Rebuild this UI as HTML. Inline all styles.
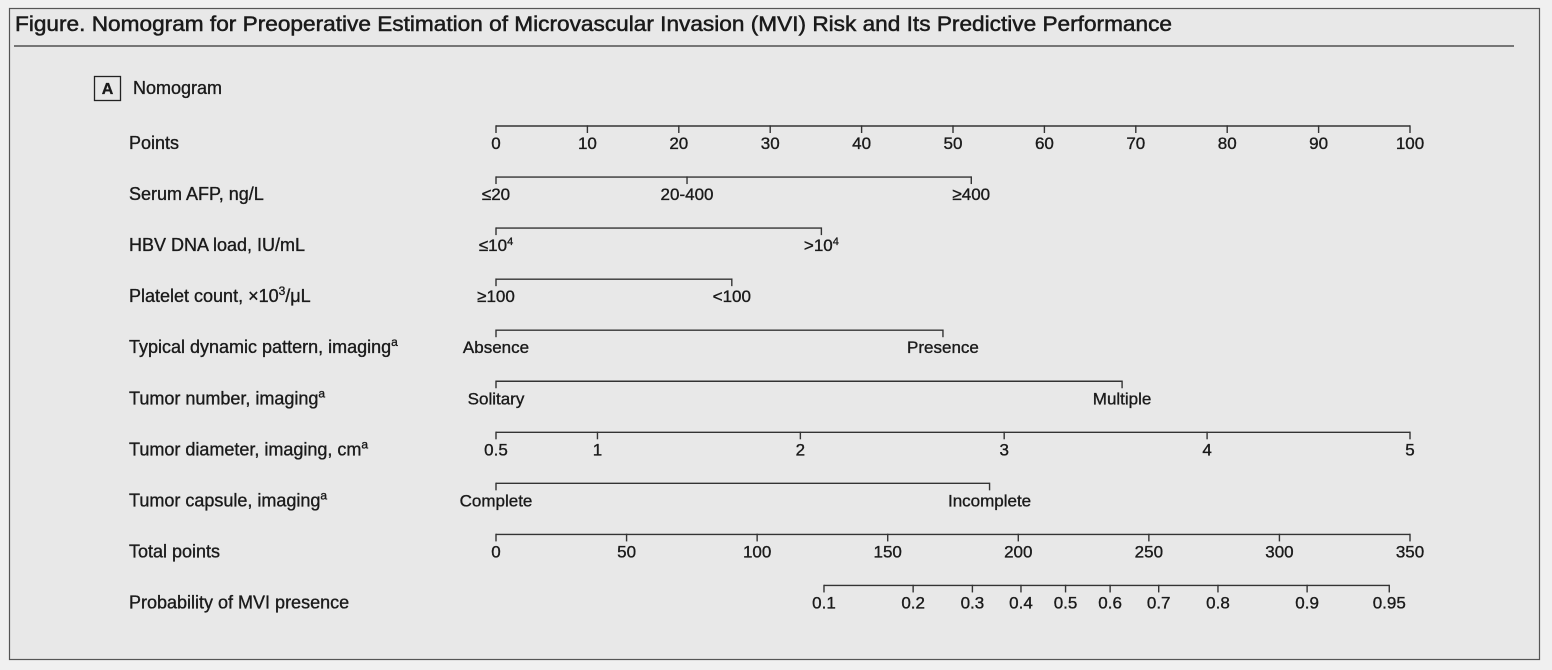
<!DOCTYPE html>
<html><head><meta charset="utf-8"><style>
html,body{margin:0;padding:0;background:#f0f0f0;}
svg{display:block;}
text{font-family:"Liberation Sans Narrow","Liberation Sans",sans-serif;fill:#1a1a1a;stroke:#1a1a1a;stroke-width:0.35;}
</style></head><body>
<svg id="chart" width="1552" height="670" viewBox="0 0 1552 670" xmlns="http://www.w3.org/2000/svg">
<rect x="9.5" y="8.5" width="1530" height="651" fill="#e8e8e8" stroke="#555" stroke-width="1.2"/>
<text x="15" y="31" font-size="21" textLength="1157" lengthAdjust="spacingAndGlyphs" style="stroke-width:0.5">Figure. Nomogram for Preoperative Estimation of Microvascular Invasion (MVI) Risk and Its Predictive Performance</text>
<line x1="14" y1="46" x2="1514" y2="46" stroke="#333" stroke-width="1.3"/>
<rect x="94.5" y="76.5" width="26" height="24" fill="none" stroke="#222" stroke-width="1.3"/>
<text x="107.5" y="94" font-size="16" font-weight="bold" text-anchor="middle">A</text>
<text x="133" y="94" font-size="18">Nomogram</text>
<g id="rows"></g>
</svg>
<script>
// Data
const rowLabels = ["Points","Serum AFP, ng/L","HBV DNA load, IU/mL","Platelet count, ×10³/μL","Typical dynamic pattern, imaging","Tumor number, imaging","Tumor diameter, imaging, cm","Tumor capsule, imaging","Total points","Probability of MVI presence"];
const pointsTicks = [0,10,20,30,40,50,60,70,80,90,100];
const afpLabels = ["≤20","20-400","≥400"];
const afpPoints = [0,20.9,52];
const hbvLabels = ["≤10|4",">10|4"];
const hbvPoints = [0,35.6];
const plateletLabels = ["≥100","<100"];
const plateletPoints = [0,25.8];
const patternLabels = ["Absence","Presence"];
const patternPoints = [0,48.9];
const numberLabels = ["Solitary","Multiple"];
const numberPoints = [0,68.5];
const diameterValues = [0.5,1,2,3,4,5];
const diameterPoints = [0,11.1,33.3,55.6,77.8,100];
const capsuleLabels = ["Complete","Incomplete"];
const capsulePoints = [0,54];
const totalTicks = [0,50,100,150,200,250,300,350];
const probTicks = [0.1,0.2,0.3,0.4,0.5,0.6,0.7,0.8,0.9,0.95];
const probIntercept = 218.1; // total points at p=0.5
const probSlope = 42.1;      // total points per logit unit

// Axis functions
const X0 = 496, X1 = 1410;
const xPts = p => X0 + (X1 - X0) * p / 100;
const xTot = t => X0 + (X1 - X0) * t / 350;
const xProb = p => xTot(probIntercept + probSlope * Math.log(p / (1 - p)));
const rowY = i => 126 + i * 51.05;

const NS = "http://www.w3.org/2000/svg";
const g = document.getElementById('rows');
function mk(tag, attrs, parent) {
  const e = document.createElementNS(NS, tag);
  for (const k in attrs) e.setAttribute(k, attrs[k]);
  (parent || g).appendChild(e);
  return e;
}
function addText(parent, x, y, s, anchor) {
  const t = mk('text', {x: x, y: y, 'font-size': 17, 'text-anchor': anchor || 'middle'}, parent);
  if (s.includes('|')) {
    const [a, b] = s.split('|');
    t.appendChild(document.createTextNode(a));
    const sp = mk('tspan', {'baseline-shift': 'super', 'font-size': 11}, t);
    sp.textContent = b;
  } else t.textContent = s;
  return t;
}
function axis(i, name, xs, labels, opts) {
  opts = opts || {};
  const y = rowY(i);
  const grp = mk('g', {});
  
  
  const xmin = Math.min(...xs), xmax = Math.max(...xs);
  const ln = mk('line', {x1: xmin, y1: y, x2: xmax, y2: y, stroke: '#333', 'stroke-width': 1.4}, grp);
  
  
  xs.forEach((x, k) => {
    const tk = mk('line', {x1: x, y1: y - 0.7, x2: x, y2: y + 7, stroke: '#333', 'stroke-width': 1.4}, grp);
    
    
    const tl = addText(grp, x, y + 23, String(labels[k]));
    
    
  });
  const rl = mk('text', {x: 129, y: y + 23, 'font-size': 18}, grp);
  const lab = rowLabels[i];
  rl.textContent = lab;
  if (opts.sup) {
    const sp = mk('tspan', {'baseline-shift': 'super', 'font-size': 12}, rl);
    sp.textContent = opts.sup;
  }
  if (i === 3) { rl.textContent = ''; rl.appendChild(document.createTextNode('Platelet count, ×10'));
    const sp = mk('tspan', {'baseline-shift': 'super', 'font-size': 12}, rl); sp.textContent = '3';
    const r = mk('tspan', {}, rl); r.textContent = '/μL'; }
  
  
}
axis(0, 'points', pointsTicks.map(xPts), pointsTicks);
axis(1, 'serum-afp', afpPoints.map(xPts), afpLabels);
axis(2, 'hbv-dna', hbvPoints.map(xPts), hbvLabels);
axis(3, 'platelet-count', plateletPoints.map(xPts), plateletLabels);
axis(4, 'dynamic-pattern', patternPoints.map(xPts), patternLabels, {sup: 'a'});
axis(5, 'tumor-number', numberPoints.map(xPts), numberLabels, {sup: 'a'});
axis(6, 'tumor-diameter', diameterPoints.map(xPts), diameterValues, {sup: 'a'});
axis(7, 'tumor-capsule', capsulePoints.map(xPts), capsuleLabels, {sup: 'a'});
axis(8, 'total-points', totalTicks.map(xTot), totalTicks);
axis(9, 'probability', probTicks.map(xProb), probTicks);
</script>
</body></html>
